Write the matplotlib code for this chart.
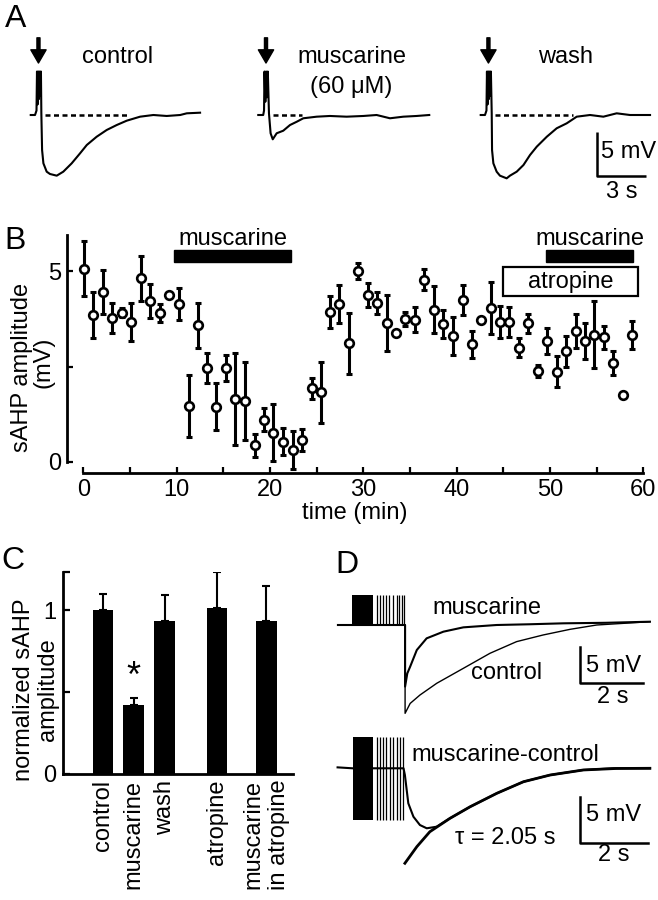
import numpy as np
import matplotlib
matplotlib.use("Agg")
import matplotlib.pyplot as plt
from matplotlib.patches import Rectangle

plt.rcParams['font.family'] = ['Liberation Sans', 'DejaVu Sans']
plt.rcParams['font.size'] = 17

# ---------------- data ----------------
# Panel A: example sAHP traces (time s from trace start, mV from baseline)
ctrl_t = [0, 0.26, 0.35, 0.38, 0.42, 0.46, 0.50, 0.54, 0.58, 0.62, 0.645, 0.69, 0.77, 0.97, 1.17,
          1.58, 1.98, 2.49, 3.0, 3.41, 4.01, 4.62, 5.23, 5.84, 6.65, 7.46, 8.27, 9.09, 9.49, 10.3]
ctrl_v = [0, 0, 0.5, 4.9, 1.2, 4.9, 1.8, 4.9, 2.2, 4.9, 0.2, -3.95, -5.45, -6.39, -6.65,
          -6.84, -6.39, -5.45, -4.32, -3.38, -2.45, -1.69, -1.13, -0.64, -0.19, 0, -0.11, 0, 0.19, 0.26]
musc_t = [0, 0.3, 0.35, 0.38, 0.43, 0.48, 0.53, 0.58, 0.65, 0.75, 0.88, 1.12, 1.52, 1.93, 2.34,
          2.74, 3.55, 4.36, 5.37, 6.39, 7.2, 8.01, 8.82, 9.63, 10.4]
musc_v = [0, 0, 0.5, 4.9, 1.5, 4.9, 2.0, 4.9, 0.2, -2.06, -2.74, -2.06, -1.77, -1.13, -0.76,
          -0.37, -0.19, -0.11, -0.19, -0.11, 0, -0.37, -0.19, -0.11, 0]
wash_t = [0, 0.26, 0.35, 0.38, 0.42, 0.46, 0.50, 0.54, 0.58, 0.62, 0.67, 0.69, 0.77, 0.97, 1.17,
          1.58, 1.78, 2.19, 2.60, 3.0, 3.41, 4.02, 4.62, 5.23, 5.84, 6.65, 7.46, 8.27, 9.08, 10.3]
wash_v = [0, 0, 0.5, 4.9, 1.2, 4.9, 1.8, 4.9, 2.2, 4.9, 0.2, -3.95, -5.45, -6.39, -6.84,
          -7.14, -6.84, -6.39, -5.64, -4.51, -3.57, -2.45, -1.5, -0.94, -0.19, 0, -0.19, 0.19, 0, 0]
traces_A = [("control", ctrl_t, ctrl_v, (0.87, 6.04)),
            ("muscarine\n(60 \u03bcM)", musc_t, musc_v, (0.91, 2.64)),
            ("wash", wash_t, wash_v, (0.87, 5.63))]

# Panel B: sAHP amplitude time course
t_min = [0.08, 1.07, 2.14, 3.1, 4.1, 5.1, 6.18, 7.14, 8.2, 9.2,
         10.25, 11.3, 12.3, 13.25, 14.25, 15.3, 16.3, 17.36, 18.36, 19.36,
         20.36, 21.43, 22.43, 23.43, 24.47, 25.5, 26.43, 27.43, 28.5, 29.45,
         30.47, 31.5, 32.5, 33.5, 34.47, 35.54, 36.54, 37.58, 38.57, 39.57,
         40.65, 41.65, 42.65, 43.65, 44.65, 45.64, 46.68, 47.68, 48.68, 49.71,
         50.72, 51.72, 52.76, 53.75, 54.75, 55.79, 56.79, 57.8, 58.83]
amp = [5.07, 3.86, 4.46, 3.77, 3.91, 3.66, 4.81, 4.22, 3.91, 4.37,
       4.14, 1.47, 3.58, 2.46, 1.45, 2.46, 1.65, 1.59, 0.44, 1.1,
       0.77, 0.53, 0.31, 0.57, 1.93, 1.82, 3.93, 4.14, 3.11, 5.01,
       4.37, 4.17, 3.64, 3.38, 3.75, 3.73, 4.78, 3.99, 3.61, 3.29,
       4.24, 3.08, 3.73, 4.04, 3.67, 3.67, 2.99, 3.64, 2.38, 3.17,
       2.37, 2.9, 3.43, 3.18, 3.33, 3.27, 2.6, 1.76, 3.33]
amp_err = [0.73, 0.6, 0.57, 0.4, 0.12, 0.5, 0.6, 0.44, 0.24, 0.0,
           0.43, 0.82, 0.59, 0.4, 0.62, 0.35, 1.2, 1.02, 0.3, 0.3,
           0.75, 0.35, 0.5, 0.28, 0.28, 0.79, 0.42, 0.51, 0.8, 0.21,
           0.32, 0.29, 0.73, 0.0, 0.18, 0.33, 0.28, 0.62, 0.36, 0.5,
           0.4, 0.35, 0.0, 0.68, 0.41, 0.39, 0.25, 0.25, 0.15, 0.33,
           0.4, 0.4, 0.45, 0.47, 0.88, 0.3, 0.32, 0.0, 0.37]
musc_periods = [(9.75, 22.25), (49.6, 58.9)]
atropine_period = (45.0, 59.4)

# Panel C: normalized sAHP amplitude
conds = ["control", "muscarine", "wash", "atropine", "muscarine\nin atropine"]
cond_pos = [0, 1, 2, 3.7, 5.3]
norm_amp = [1.0, 0.418, 0.935, 1.014, 0.935]
norm_err = [0.1, 0.044, 0.155, 0.22, 0.21]

# Panel D: superimposed traces and difference with fit
burst_dense = (0.28, 0.97)
burst_spikes = [1.07, 1.17, 1.26, 1.36, 1.47, 1.59, 1.70, 1.78, 1.86, 1.93]
d_musc_t = [-0.15, 0.28, 1.97, 1.97, 2.04, 2.13, 2.34, 2.65, 3.18, 3.81, 4.86, 5.9, 6.97, 8.3, 9.70]
d_musc_v = [0, 0, 0, -8.4, -6.6, -5.68, -3.41, -1.82, -0.91, -0.32, 0, 0.1, 0.23, 0.3, 0.45]
d_ctrl_t = [1.97, 1.97, 2.13, 2.44, 2.97, 3.81, 4.65, 5.49, 6.33, 7.18, 8.02, 9.70]
d_ctrl_v = [0, -12.05, -10.7, -9.55, -7.95, -5.91, -3.86, -2.27, -1.36, -0.59, 0, 0.45]
diff_dense = (0.29, 0.90)
diff_spikes = [0.99, 1.09, 1.19, 1.28, 1.38, 1.48, 1.58, 1.69, 1.77]
diff_t = [-0.15, 0.29, 1.78, 1.82, 1.92, 2.07, 2.26, 2.46, 2.75, 3.14, 3.73, 4.51, 5.29, 6.07, 7.04, 7.92, 8.99]
diff_v = [0.1, 0, 0, -0.72, -3.75, -5.19, -6.08, -6.43, -6.26, -5.36, -4.12, -2.68, -1.44, -0.72, -0.18, 0, 0]
fit_t = [1.82, 2.17, 2.55, 3.14, 3.73, 4.51, 5.29, 6.07, 7.04, 8.0, 8.99]
fit_v = [-10.18, -8.4, -6.8, -5.36, -4.12, -2.68, -1.44, -0.72, -0.18, -0.02, 0]

# ---------------- figure ----------------
W, H = 658, 900
fig = plt.figure(figsize=(W / 100, H / 100), dpi=100)


def fx(px):
    return px / W


def fy(py):
    return 1 - py / H


# panel letters
for lab, px, py in [("A", 16, 19), ("B", 15, 241), ("C", 13, 561), ("D", 347, 565)]:
    fig.text(fx(px), fy(py), lab, fontsize=23, ha='center', va='center')

# ---- Panel A ----
axA = fig.add_axes([0, fy(210), 1, 210 / H])
axA.set_xlim(0, W / 16.44)
axA.set_ylim(-95 / 8.87, 115 / 8.87)
axA.axis('off')
offsets_A = [1.87, 15.71, 29.24]
label_x_A = [7.18, 21.39, 34.37]
for (name, tt, vv, dash), off, lx in zip(traces_A, offsets_A, label_x_A):
    axA.plot(off + np.array(tt), vv, color='k', lw=1.5)
    axA.plot([off + dash[0], off + dash[1]], [0, 0], color='k', lw=1.8, ls=(0, (2.0, 1.4)))
    axA.annotate('', xy=(off + 0.47, 5.86), xytext=(off + 0.47, 8.7),
                 arrowprops=dict(facecolor='k', edgecolor='k', width=2.2,
                                 headwidth=11, headlength=9.5, shrink=0))
    first, *rest = name.split("\n")
    axA.text(lx, 6.5, first, ha='center', va='center')
    if rest:
        axA.text(lx, 3.12, rest[0], ha='center', va='center')
# scale bar 5 mV / 3 s
axA.plot([36.3, 36.3, 39.3], [-1.88, -6.88, -6.88], color='k', lw=1.8, solid_capstyle='butt')
axA.text(36.55, -4.2, "5 mV", ha='left', va='center')
axA.text(37.8, -8.65, "3 s", ha='center', va='center')

# ---- Panel B ----
axB = fig.add_axes([fx(66.7), fy(473.3), (643.3 - 66.7) / W, (473.3 - 233.1) / H])
axB.set_xlim(-1.78, 60)
axB.set_ylim(-0.30, 6.0)
axB.errorbar(t_min, amp, yerr=amp_err, fmt='none', ecolor='k', elinewidth=2.2,
             capsize=2.4, capthick=2.2, zorder=2)
axB.plot(t_min, amp, 'o', mfc='white', mec='k', ms=6.2, mew=1.9, zorder=3)
for x0, x1 in musc_periods:
    axB.add_patch(Rectangle((x0, 5.24), x1 - x0, 0.31, color='k', clip_on=False))
    axB.text((x0 + x1) / 2, 5.85, "muscarine", ha='center', va='center')
axB.add_patch(Rectangle((atropine_period[0], 4.35), atropine_period[1] - atropine_period[0], 0.76,
                        fc='white', ec='k', lw=1.6, clip_on=False, zorder=4))
axB.text(sum(atropine_period) / 2, 4.73, "atropine", ha='center', va='center', zorder=5)
for s in ['top', 'right']:
    axB.spines[s].set_visible(False)
axB.spines['left'].set_bounds(0, 5.95)
axB.spines['bottom'].set_bounds(0, 60)
for s in ['left', 'bottom']:
    axB.spines[s].set_linewidth(2.0)
axB.set_xticks(range(0, 61, 10))
axB.set_xticks(range(5, 60, 10), minor=True)
axB.set_yticks([0, 2.5, 5])
axB.set_yticklabels(['0', '', '5'])
axB.tick_params(which='both', direction='in', length=4.5, width=1.6, pad=4)
axB.set_xlabel("time (min)", labelpad=1)
fig.text(fx(21.7), fy(367), "sAHP amplitude", rotation=90, ha='center', va='center')
fig.text(fx(43.3), fy(362), "(mV)", rotation=90, ha='center', va='center')

# ---- Panel C ----
axC = fig.add_axes([fx(63), fy(774), (293.3 - 63) / W, (774 - 571.5) / H])
axC.set_xlim(-1.30, 6.18)
axC.set_ylim(0, 1.235)
axC.bar(cond_pos, norm_amp, width=0.67, color='k', zorder=2)
axC.errorbar(cond_pos, norm_amp, yerr=[np.zeros(len(norm_err)), norm_err], fmt='none',
             ecolor='k', elinewidth=1.5, capsize=3, capthick=1.5, zorder=1)
axC.text(cond_pos[1], 0.59, "*", ha='center', va='center', fontsize=26)
for s in ['top', 'right']:
    axC.spines[s].set_visible(False)
for s in ['left', 'bottom']:
    axC.spines[s].set_linewidth(2.0)
axC.set_yticks([0, 0.5, 1, 1.235])
axC.set_yticklabels(['0', '', '1', ''])
axC.tick_params(axis='y', direction='in', length=5, width=1.6, pad=5)
axC.set_xticks(cond_pos)
axC.set_xticklabels(conds, rotation=90, va='top', ha='center', multialignment='right')
axC.tick_params(axis='x', length=0, pad=4)
fig.text(fx(24), fy(690), "normalized sAHP", rotation=90, ha='center', va='center')
fig.text(fx(48), fy(690), "amplitude", rotation=90, ha='center', va='center')

# ---- Panel D top ----
axD1 = fig.add_axes([fx(330), fy(720), 328 / W, 140 / H])
axD1.set_xlim((330 - 342.7) / 31.67, (658 - 342.7) / 31.67)
axD1.set_ylim((625 - 720) / 7.33, (625 - 580) / 7.33)
axD1.axis('off')
axD1.fill_between(burst_dense, 0, 4.1, color='k', lw=0)
axD1.vlines(burst_spikes, 0, 4.1, color='k', lw=0.9)
axD1.plot(d_musc_t, d_musc_v, color='k', lw=1.5)
axD1.plot(d_ctrl_t, d_ctrl_v, color='k', lw=1.0)
axD1.text(4.55, 2.27, "muscarine", ha='center', va='center')
axD1.text(5.18, -6.59, "control", ha='center', va='center')
axD1.plot([7.49, 7.49, 9.49], [-2.96, -7.95, -7.95], color='k', lw=1.8)
axD1.text(7.68, -5.6, "5 mV", ha='left', va='center')
axD1.text(8.53, -9.78, "2 s", ha='center', va='center')

# ---- Panel D bottom ----
axD2 = fig.add_axes([fx(330), 0, 328 / W, 175 / H])
axD2.set_xlim((330 - 342.7) / 34.17, (658 - 342.7) / 34.17)
axD2.set_ylim((768.3 - 900) / 9.33, (768.3 - 725) / 9.33)
axD2.axis('off')
axD2.fill_between(diff_dense, -5.54, 3.39, color='k', lw=0)
axD2.vlines(diff_spikes, -5.54, 3.39, color='k', lw=0.9)
axD2.plot(diff_t, diff_v, color='k', lw=1.5)
axD2.plot(fit_t, fit_v, color='k', lw=2.0)
axD2.text(2.02, 1.43, "muscarine-control", ha='left', va='center')
axD2.text(4.75, -7.5, "\u03c4 = 2.05 s", ha='center', va='center')
axD2.plot([6.94, 6.94, 8.94], [-3.04, -8.04, -8.04], color='k', lw=1.8)
axD2.text(7.12, -5.0, "5 mV", ha='left', va='center')
axD2.text(7.92, -9.29, "2 s", ha='center', va='center')

fig.savefig("out.png", dpi=100)
